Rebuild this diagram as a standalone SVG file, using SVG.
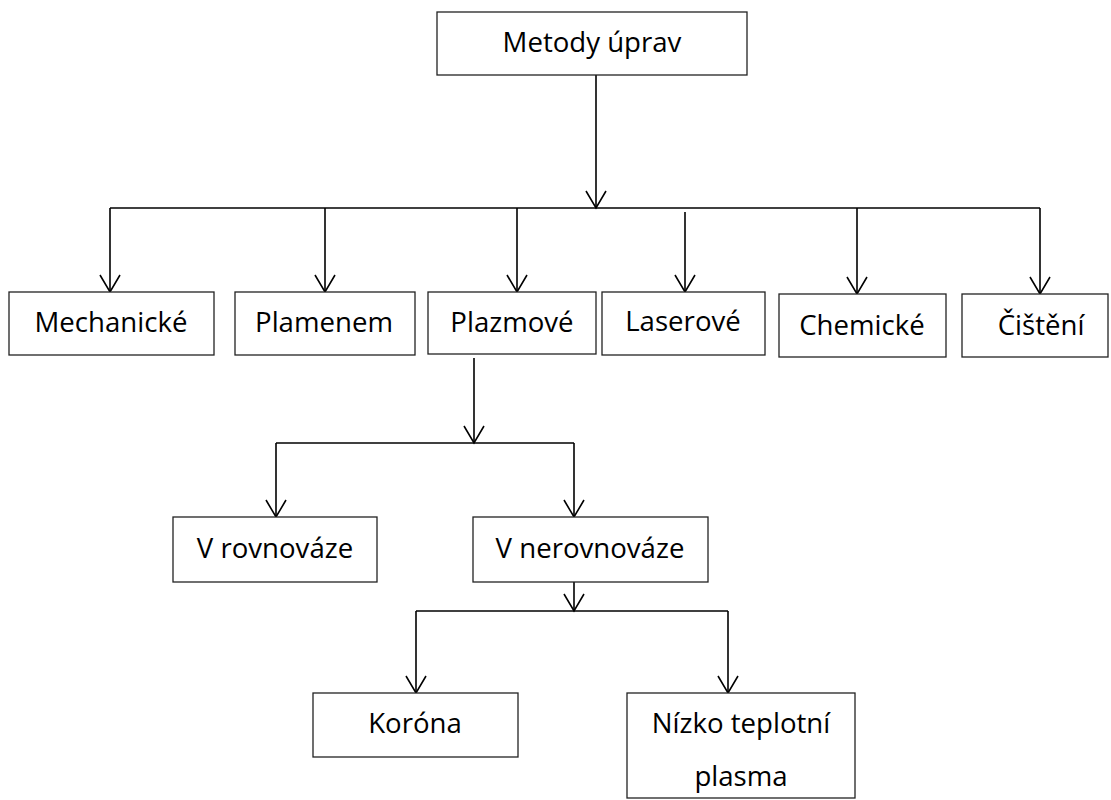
<svg xmlns="http://www.w3.org/2000/svg" width="1111" height="800" viewBox="0 0 1111 800">
<style>
.box{fill:#fff;stroke:#222;stroke-width:1.3}
.lbl{font-family:"Open Sans","Noto Sans",sans-serif;font-size:27.6px;fill:#000;text-anchor:middle}
.ln{fill:none;stroke:#000;stroke-width:1.6}
</style>
<defs>
<marker id="arr" markerUnits="userSpaceOnUse" viewBox="-1 -1 20 22" refX="17" refY="10" markerWidth="20" markerHeight="22" orient="auto">
<path d="M0,0 L17,10 L0,20" fill="none" stroke="#000" stroke-width="1.6"/>
</marker>
</defs>
<rect width="1111" height="800" fill="#fff"/>
<g id="connectors">
<path class="ln" d="M596,75 V208" marker-end="url(#arr)"/>
<path class="ln" d="M110,208 H1040"/>
<path class="ln" d="M110,208 V292" marker-end="url(#arr)"/>
<path class="ln" d="M325,208 V292" marker-end="url(#arr)"/>
<path class="ln" d="M517,208 V292" marker-end="url(#arr)"/>
<path class="ln" d="M685,212 V292" marker-end="url(#arr)"/>
<path class="ln" d="M857,208 V294" marker-end="url(#arr)"/>
<path class="ln" d="M1040,208 V294" marker-end="url(#arr)"/>
<path class="ln" d="M474,358 V443" marker-end="url(#arr)"/>
<path class="ln" d="M276,443 H574"/>
<path class="ln" d="M276,443 V517" marker-end="url(#arr)"/>
<path class="ln" d="M574,443 V517" marker-end="url(#arr)"/>
<path class="ln" d="M574,582 V611" marker-end="url(#arr)"/>
<path class="ln" d="M416,611 H728"/>
<path class="ln" d="M416,611 V693" marker-end="url(#arr)"/>
<path class="ln" d="M728,611 V693" marker-end="url(#arr)"/>
</g>
<g id="n-metody"><rect class="box" x="437" y="12" width="310" height="63"/><text class="lbl" x="592" y="52">Metody úprav</text></g>
<g id="n-mechanicke"><rect class="box" x="9" y="292" width="205" height="63"/><text class="lbl" x="111" y="332">Mechanické</text></g>
<g id="n-plamenem"><rect class="box" x="235" y="292" width="180" height="63"/><text class="lbl" x="324" y="332">Plamenem</text></g>
<g id="n-plazmove"><rect class="box" x="428" y="292" width="168" height="62"/><text class="lbl" x="512" y="332">Plazmové</text></g>
<g id="n-laserove"><rect class="box" x="602" y="292" width="163" height="63"/><text class="lbl" x="683" y="331">Laserové</text></g>
<g id="n-chemicke"><rect class="box" x="779" y="294" width="167" height="63"/><text class="lbl" x="862" y="335">Chemické</text></g>
<g id="n-cisteni"><rect class="box" x="962" y="294" width="146" height="63"/><text class="lbl" x="1041" y="335">Čištění</text></g>
<g id="n-rovnovaze"><rect class="box" x="173" y="517" width="204" height="65"/><text class="lbl" x="275" y="558">V rovnováze</text></g>
<g id="n-nerovnovaze"><rect class="box" x="473" y="517" width="235" height="65"/><text class="lbl" x="590" y="558">V nerovnováze</text></g>
<g id="n-korona"><rect class="box" x="313" y="693" width="205" height="64"/><text class="lbl" x="415" y="733">Koróna</text></g>
<g id="n-nizko"><rect class="box" x="627" y="693" width="228" height="105"/><text class="lbl" x="741" y="733">Nízko teplotní</text><text class="lbl" x="741" y="786">plasma</text></g>
</svg>
